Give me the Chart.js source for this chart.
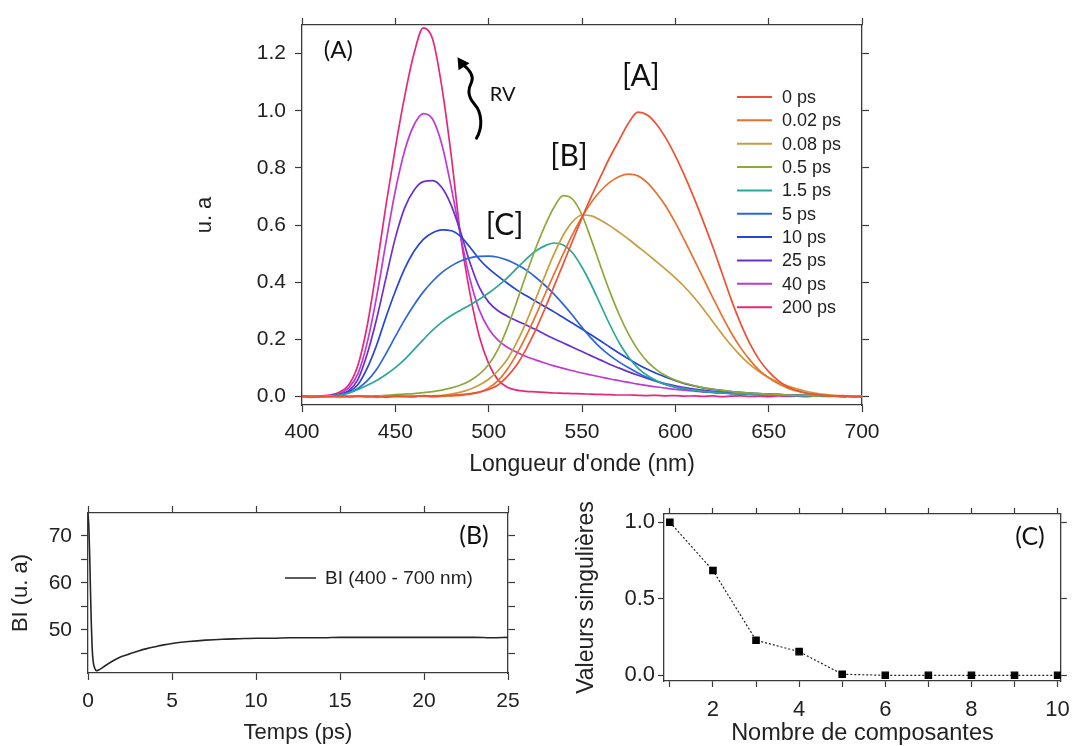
<!DOCTYPE html>
<html>
<head>
<meta charset="utf-8">
<script src="https://cdn.jsdelivr.net/npm/chart.js@4.4.1/dist/chart.umd.min.js"></script>
<style>
  body { margin: 0; background: #fff; width: 1080px; height: 746px; overflow: hidden; position: relative; }
  .panel { position: absolute; }
</style>
</head>
<body>
<div class="panel" style="left:0;top:0"><canvas id="spectra" width="1080" height="480"></canvas></div>
<div class="panel" style="left:0;top:490px"><canvas id="kinetics" width="540" height="256"></canvas></div>
<div class="panel" style="left:540px;top:490px"><canvas id="svd" width="540" height="256"></canvas></div>
<script>
// ---- spectra (A): wavelength grid, nm
const wavelengths = [400, 405, 410, 415, 420, 425, 430, 435, 440, 445, 450, 455, 460, 465, 470, 475, 480, 485, 490, 495,
  500, 505, 510, 515, 520, 525, 530, 535, 540, 545, 550, 555, 560, 565, 570, 575, 580, 585, 590, 595,
  600, 605, 610, 615, 620, 625, 630, 635, 640, 645, 650, 655, 660, 665, 670, 675, 680, 685, 690, 695, 700];

const delays = ['0 ps', '0.02 ps', '0.08 ps', '0.5 ps', '1.5 ps', '5 ps', '10 ps', '25 ps', '40 ps', '200 ps'];
const delayColors = ['#ee5134', '#e8702c', '#c99c3e', '#8ea83a', '#2aa797', '#2a66dc', '#2446d8', '#6a30cf', '#be3ad6', '#e6287c'];

const spec0ps = [0.002, -0.003, 0.001, -0.002, 0.003, -0.001, 0.002, -0.002, 0.001, -0.003, 0.002, 0.000, -0.002, 0.003, 0.001, 0.002, 0.004, 0.006, 0.010, 0.015,
  0.024, 0.040, 0.070, 0.110, 0.165, 0.230, 0.305, 0.385, 0.465, 0.545, 0.625, 0.700, 0.770, 0.838, 0.898, 0.958, 0.995, 0.985, 0.952, 0.903,
  0.842, 0.772, 0.695, 0.612, 0.525, 0.432, 0.338, 0.255, 0.184, 0.128, 0.087, 0.056, 0.034, 0.021, 0.012, 0.007, 0.004, 0.001, 0.003, -0.002, 0.001];
const spec002ps = [-0.002, 0.002, -0.001, 0.003, 0.000, -0.002, 0.001, 0.002, -0.003, 0.001, 0.002, -0.001, 0.000, 0.002, -0.002, 0.001, 0.002, 0.004, 0.008, 0.015,
  0.030, 0.055, 0.095, 0.148, 0.210, 0.280, 0.355, 0.428, 0.500, 0.568, 0.628, 0.680, 0.720, 0.750, 0.770, 0.778, 0.772, 0.748, 0.710, 0.665,
  0.608, 0.545, 0.480, 0.413, 0.347, 0.282, 0.222, 0.170, 0.127, 0.091, 0.065, 0.045, 0.030, 0.019, 0.012, 0.007, 0.004, 0.002, 0.001, 0.002, -0.001];
const spec008ps = [0.001, -0.002, 0.002, 0.000, -0.003, 0.002, 0.001, -0.001, 0.002, 0.000, -0.002, 0.001, 0.002, 0.000, 0.002, 0.004, 0.008, 0.015, 0.025, 0.040,
  0.060, 0.090, 0.130, 0.188, 0.258, 0.338, 0.420, 0.498, 0.565, 0.612, 0.635, 0.632, 0.617, 0.597, 0.574, 0.550, 0.524, 0.498, 0.471, 0.444,
  0.415, 0.383, 0.347, 0.306, 0.262, 0.219, 0.178, 0.142, 0.111, 0.086, 0.066, 0.050, 0.037, 0.027, 0.018, 0.012, 0.007, 0.004, 0.002, 0.001, 0.002];
const spec05ps = [-0.001, 0.002, -0.002, 0.001, 0.000, 0.002, -0.001, 0.001, 0.002, 0.004, 0.006, 0.008, 0.010, 0.013, 0.017, 0.022, 0.030, 0.040, 0.055, 0.078,
  0.112, 0.165, 0.240, 0.330, 0.425, 0.515, 0.595, 0.662, 0.703, 0.690, 0.635, 0.548, 0.455, 0.365, 0.285, 0.217, 0.163, 0.122, 0.093, 0.072,
  0.057, 0.046, 0.038, 0.031, 0.026, 0.021, 0.017, 0.014, 0.012, 0.010, 0.008, 0.006, 0.005, 0.004, 0.003, 0.002, 0.003, 0.001, 0.002, 0.000, 0.001];
const spec15ps = [0.001, -0.002, 0.001, 0.002, 0.005, 0.012, 0.024, 0.039, 0.056, 0.077, 0.101, 0.130, 0.164, 0.199, 0.232, 0.260, 0.283, 0.302, 0.320, 0.340,
  0.362, 0.387, 0.415, 0.448, 0.480, 0.508, 0.527, 0.537, 0.530, 0.502, 0.452, 0.390, 0.320, 0.250, 0.187, 0.137, 0.099, 0.073, 0.055, 0.042,
  0.033, 0.027, 0.022, 0.018, 0.015, 0.012, 0.010, 0.009, 0.008, 0.007, 0.006, 0.005, 0.004, 0.003, 0.003, 0.002, 0.002, 0.001, 0.002, 0.000, 0.001];
const spec5ps = [0.002, -0.001, 0.001, 0.001, 0.004, 0.012, 0.028, 0.055, 0.095, 0.150, 0.210, 0.268, 0.320, 0.366, 0.403, 0.434, 0.457, 0.474, 0.485, 0.490,
  0.491, 0.487, 0.477, 0.462, 0.443, 0.418, 0.390, 0.358, 0.322, 0.283, 0.242, 0.203, 0.170, 0.143, 0.120, 0.100, 0.082, 0.066, 0.052, 0.041,
  0.032, 0.026, 0.021, 0.017, 0.014, 0.012, 0.010, 0.009, 0.008, 0.007, 0.006, 0.005, 0.004, 0.004, 0.003, 0.002, 0.003, 0.001, 0.002, 0.001, 0.000];
const spec10ps = [-0.001, 0.002, 0.000, 0.002, 0.006, 0.016, 0.042, 0.100, 0.180, 0.278, 0.368, 0.447, 0.508, 0.550, 0.573, 0.583, 0.580, 0.560, 0.522, 0.480,
  0.447, 0.421, 0.396, 0.373, 0.353, 0.334, 0.315, 0.296, 0.276, 0.256, 0.236, 0.215, 0.194, 0.172, 0.151, 0.131, 0.112, 0.095, 0.080, 0.067,
  0.055, 0.045, 0.037, 0.030, 0.025, 0.021, 0.017, 0.014, 0.012, 0.010, 0.008, 0.007, 0.005, 0.004, 0.003, 0.003, 0.002, 0.002, 0.001, 0.002, 0.000];
const spec25ps = [0.001, -0.002, 0.001, 0.002, 0.006, 0.020, 0.060, 0.150, 0.272, 0.415, 0.555, 0.660, 0.722, 0.752, 0.755, 0.730, 0.668, 0.575, 0.468, 0.382,
  0.330, 0.300, 0.281, 0.265, 0.250, 0.235, 0.218, 0.202, 0.187, 0.172, 0.157, 0.142, 0.127, 0.112, 0.099, 0.086, 0.074, 0.063, 0.053, 0.044,
  0.037, 0.031, 0.026, 0.022, 0.018, 0.015, 0.013, 0.011, 0.010, 0.008, 0.007, 0.006, 0.005, 0.004, 0.003, 0.003, 0.002, 0.001, 0.002, 0.001, 0.000];
const spec40ps = [0.000, 0.002, -0.001, 0.003, 0.010, 0.030, 0.080, 0.190, 0.350, 0.540, 0.720, 0.860, 0.950, 0.990, 0.970, 0.880, 0.730, 0.560, 0.410, 0.302,
  0.237, 0.197, 0.172, 0.155, 0.140, 0.128, 0.117, 0.107, 0.098, 0.090, 0.082, 0.075, 0.068, 0.061, 0.055, 0.049, 0.043, 0.038, 0.033, 0.029,
  0.025, 0.022, 0.019, 0.016, 0.014, 0.012, 0.011, 0.009, 0.008, 0.007, 0.006, 0.005, 0.004, 0.004, 0.003, 0.002, 0.003, 0.001, 0.002, 0.000, 0.001];
const spec200ps = [0.003, -0.002, 0.002, 0.005, 0.015, 0.040, 0.110, 0.250, 0.450, 0.670, 0.870, 1.050, 1.200, 1.290, 1.250, 1.080, 0.840, 0.560, 0.360, 0.210,
  0.115, 0.058, 0.032, 0.022, 0.018, 0.016, 0.014, 0.012, 0.011, 0.010, 0.009, 0.008, 0.007, 0.006, 0.005, 0.005, 0.004, 0.003, 0.004, 0.002,
  0.003, 0.001, 0.002, 0.000, 0.002, -0.001, 0.001, 0.002, 0.000, 0.001, -0.001, 0.002, 0.000, 0.001, -0.001, 0.002, 0.000, 0.001, -0.002, 0.001, 0.000];

const spectra = [spec0ps, spec002ps, spec008ps, spec05ps, spec15ps, spec5ps, spec10ps, spec25ps, spec40ps, spec200ps];

// ---- integrated band (B)
const times = [0, 0.05, 0.1, 0.15, 0.2, 0.25, 0.3, 0.4, 0.5, 0.6, 0.8, 1, 1.5, 2, 2.5, 3, 3.5, 4, 4.5, 5,
  6, 7, 8, 9, 10, 11, 12, 13, 14, 15, 16, 17, 18, 19, 20, 21, 22, 23, 24, 25];
const bandIntegral = [75, 72, 66, 58, 51, 46, 43.5, 41.8, 41.3, 41.4, 41.8, 42.3, 43.4, 44.3, 44.9, 45.5, 46.0, 46.4, 46.8, 47.1,
  47.5, 47.8, 48.0, 48.1, 48.2, 48.2, 48.3, 48.3, 48.3, 48.4, 48.4, 48.4, 48.4, 48.4, 48.4, 48.4, 48.4, 48.4, 48.3, 48.4];

// ---- singular values (C)
const components = [1, 2, 3, 4, 5, 6, 7, 8, 9, 10];
const singularValues = [1.0, 0.685, 0.229, 0.155, 0.007, 0.0, 0.0, 0.0, 0.0, 0.0];

const SANS = '"Liberation Sans", Arial, sans-serif';
const NOTE = 'Lato, "Open Sans", sans-serif';
const INK = '#222';
const FRAME = '#3a3a3a';

// axis with outward ticks and a frame line; mirror axes have no labels
function axis(position, min, max, step, size, extra) {
  const a = {
    type: 'linear', position: position, min: min, max: max,
    ticks: { stepSize: step, includeBounds: false, autoSkip: false, maxRotation: 0, color: INK, font: { family: SANS, size: 21 } },
    grid: { drawOnChartArea: false, tickLength: 7, color: FRAME, tickColor: FRAME, tickWidth: 1.2 },
    border: { display: true, color: FRAME, width: 1.3 },
    afterFit: function (s) {
      if (s.isHorizontal()) s.height = size; else s.width = size;
    }
  };
  if (extra && extra.mirror) a.ticks.display = false;
  if (extra && extra.ticks) Object.assign(a.ticks, extra.ticks);
  if (extra && extra.tickLength) a.grid.tickLength = extra.tickLength;
  if (extra && extra.title) a.title = Object.assign({ display: true, color: INK, font: { family: SANS, size: 22 } }, extra.title);
  return a;
}

const oneDecimal = v => (Math.abs(v) < 1e-9 ? '0.0' : v.toFixed(1));

// ---------- (A) time-resolved spectra ----------
const spectraNotes = {
  id: 'spectraNotes',
  afterDatasetsDraw(chart) {
    const { ctx, chartArea: area, scales: { x, y } } = chart;
    ctx.save();
    ctx.fillStyle = '#111';
    ctx.textAlign = 'center';
    ctx.textBaseline = 'middle';
    ctx.font = '24px ' + NOTE;
    ctx.fillText('(A)', x.getPixelForValue(419.5), y.getPixelForValue(1.21));
    ctx.font = '20px ' + NOTE;
    ctx.fillText('RV', x.getPixelForValue(507.5), y.getPixelForValue(1.058));
    ctx.font = '30px ' + NOTE;
    ctx.fillText('[A]', x.getPixelForValue(581.5), y.getPixelForValue(1.12));
    ctx.fillText('[B]', x.getPixelForValue(543), y.getPixelForValue(0.84));
    ctx.fillText('[C]', x.getPixelForValue(508.5), y.getPixelForValue(0.598));

    // wavy arrow under the "RV" label
    const bx = x.getPixelForValue(493.5), by = y.getPixelForValue(0.904);
    ctx.strokeStyle = '#000';
    ctx.lineWidth = 3;
    ctx.lineCap = 'round';
    ctx.beginPath();
    ctx.moveTo(bx, by);
    ctx.bezierCurveTo(bx + 6, by - 10, bx + 6, by - 25, bx - 2, by - 34);
    ctx.bezierCurveTo(bx - 10, by - 43, bx - 8, by - 50, bx - 5, by - 56);
    ctx.bezierCurveTo(bx - 2, by - 63, bx - 9, by - 70, bx - 14, by - 74);
    ctx.stroke();
    ctx.fillStyle = '#000';
    ctx.beginPath();
    ctx.moveTo(bx - 19, by - 81);
    ctx.lineTo(bx - 7, by - 75);
    ctx.lineTo(bx - 18, by - 68);
    ctx.closePath();
    ctx.fill();

    // legend
    ctx.font = '18px ' + SANS;
    ctx.textAlign = 'left';
    ctx.lineWidth = 2;
    ctx.lineCap = 'butt';
    chart.data.datasets.forEach((ds, i) => {
      const ly = area.top + 72 + i * 23.35;
      ctx.strokeStyle = ds.borderColor;
      ctx.beginPath();
      ctx.moveTo(area.left + 435, ly);
      ctx.lineTo(area.left + 470, ly);
      ctx.stroke();
      ctx.fillStyle = INK;
      ctx.fillText(ds.label, area.left + 480, ly + 1);
    });
    ctx.restore();
  }
};

new Chart(document.getElementById('spectra'), {
  type: 'line',
  data: {
    datasets: spectra.map((vals, i) => ({
      label: delays[i],
      data: wavelengths.map((w, k) => ({ x: w, y: vals[k] })),
      borderColor: delayColors[i],
      borderWidth: 1.7,
      pointRadius: 0,
      cubicInterpolationMode: 'monotone',
      fill: false
    }))
  },
  options: {
    responsive: false,
    animation: false,
    layout: { padding: { left: 180, right: 200, top: 0, bottom: 0 } },
    plugins: { legend: { display: false }, tooltip: { enabled: false } },
    scales: {
      x: axis('bottom', 400, 700, 50, 75, {
        ticks: { padding: 8 },
        title: { text: "Longueur d'onde (nm)", font: { family: SANS, size: 23 }, padding: { top: 0, bottom: 2 } }
      }),
      x2: axis('top', 400, 700, 50, 25, { mirror: true }),
      y: axis('left', -0.03, 1.3, 0.2, 122, {
        ticks: { padding: 9, callback: oneDecimal },
        title: { text: 'u. a', padding: { top: 12, bottom: 0 } }
      }),
      y2: axis('right', -0.03, 1.3, 0.2, 18, { mirror: true })
    }
  },
  plugins: [spectraNotes]
});

// ---------- (B) band integral vs time ----------
const kineticsNotes = {
  id: 'kineticsNotes',
  afterDatasetsDraw(chart) {
    const { ctx, chartArea: area } = chart;
    const ds = chart.data.datasets[0];
    ctx.save();
    ctx.strokeStyle = ds.borderColor;
    ctx.lineWidth = 1.5;
    ctx.beginPath();
    ctx.moveTo(area.left + 197, area.top + 65);
    ctx.lineTo(area.left + 228, area.top + 65);
    ctx.stroke();
    ctx.fillStyle = INK;
    ctx.font = '19px ' + SANS;
    ctx.textBaseline = 'middle';
    ctx.fillText(ds.label, area.left + 237, area.top + 66);
    ctx.fillStyle = '#111';
    ctx.textAlign = 'center';
    ctx.font = '25px ' + NOTE;
    ctx.fillText('(B)', area.left + 386, area.top + 23);
    ctx.restore();
  }
};

new Chart(document.getElementById('kinetics'), {
  type: 'line',
  data: {
    datasets: [{
      label: 'BI (400 - 700 nm)',
      data: times.map((t, k) => ({ x: t, y: bandIntegral[k] })),
      borderColor: '#262626',
      borderWidth: 1.6,
      pointRadius: 0,
      cubicInterpolationMode: 'monotone'
    }]
  },
  options: {
    responsive: false,
    animation: false,
    layout: { padding: { left: 0, right: 20, top: 0, bottom: 0 } },
    plugins: { legend: { display: false }, tooltip: { enabled: false } },
    scales: {
      x: axis('bottom', 0, 25, 5, 73, {
        ticks: { padding: 9 },
        title: { text: 'Temps (ps)', padding: { top: 0, bottom: 0 } }
      }),
      x2: axis('top', 0, 25, 5, 23, { mirror: true }),
      y: axis('left', 40.8, 74.9, 5, 88, {
        ticks: { padding: 9, callback: v => (v % 10 === 0 ? String(v) : '') },
        title: { text: 'BI (u. a)', padding: { top: 8, bottom: 0 } }
      }),
      y2: axis('right', 40.8, 74.9, 5, 12, { mirror: true })
    }
  },
  plugins: [kineticsNotes]
});

// ---------- (C) singular values ----------
const svdNotes = {
  id: 'svdNotes',
  afterDatasetsDraw(chart) {
    const { ctx, chartArea: area } = chart;
    ctx.save();
    ctx.fillStyle = '#111';
    ctx.textAlign = 'center';
    ctx.textBaseline = 'middle';
    ctx.font = '25px ' + NOTE;
    ctx.fillText('(C)', area.left + 366, area.top + 23);
    ctx.restore();
  }
};

new Chart(document.getElementById('svd'), {
  type: 'line',
  data: {
    datasets: [{
      label: 'Valeurs singulières',
      data: components.map((n, k) => ({ x: n, y: singularValues[k] })),
      borderColor: '#222',
      borderWidth: 1.2,
      borderDash: [2, 2],
      pointStyle: 'rect',
      pointRadius: 4.5,
      pointBackgroundColor: '#000',
      pointBorderColor: '#000',
      tension: 0
    }]
  },
  options: {
    responsive: false,
    animation: false,
    layout: { padding: { left: 0, right: 0, top: 0, bottom: 0 } },
    plugins: { legend: { display: false }, tooltip: { enabled: false } },
    scales: {
      x: axis('bottom', 0.864, 10.075, 1, 65, {
        tickLength: 6,
        ticks: { padding: 10, font: { family: SANS, size: 22 }, callback: v => (v % 2 === 0 ? String(v) : '') },
        title: { text: 'Nombre de composantes', font: { family: SANS, size: 23.5 }, padding: { top: 0, bottom: -2 } }
      }),
      x2: axis('top', 0.864, 10.075, 1, 24, { mirror: true, tickLength: 6 }),
      y: axis('left', -0.037, 1.054, 0.5, 124, {
        tickLength: 6,
        ticks: { padding: 3, font: { family: SANS, size: 22 }, callback: oneDecimal },
        title: { text: 'Valeurs singulières', font: { family: SANS, size: 23 }, padding: { top: 33, bottom: 0 } }
      }),
      y2: axis('right', -0.037, 1.054, 0.5, 10, { mirror: true, tickLength: 6 })
    }
  },
  plugins: [svdNotes]
});
</script>
</body>
</html>
